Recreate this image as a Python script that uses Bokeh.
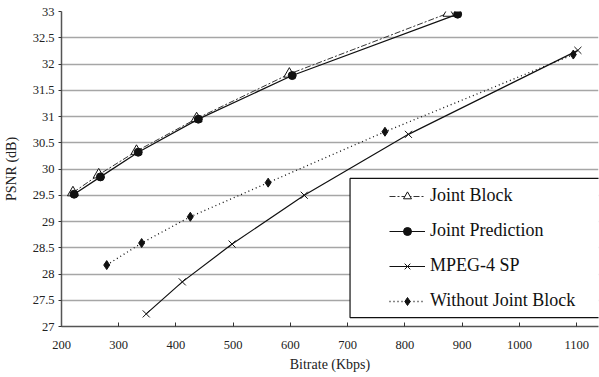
from bokeh.plotting import figure
from bokeh.models import FixedTicker, Legend, BoxAnnotation
from bokeh.embed import file_html
from bokeh.resources import INLINE

# ---- data ----
jb_x = [220, 265, 331, 436, 598, 876]
jb_y = [29.55, 29.89, 30.34, 30.96, 31.81, 32.97]

jp_x = [222, 268, 334, 439, 603, 892]
jp_y = [29.52, 29.85, 30.32, 30.95, 31.78, 32.95]

mp_x = [348, 411, 498, 624, 806, 1102]
mp_y = [27.24, 27.85, 28.57, 29.50, 30.66, 32.26]

wj_x = [279, 340, 425, 561, 765, 1094]
wj_y = [28.17, 28.59, 29.09, 29.74, 30.71, 32.18]

x_ticks = [200, 300, 400, 500, 600, 700, 800, 900, 1000, 1100]
y_ticks = [27, 27.5, 28, 28.5, 29, 29.5, 30, 30.5, 31, 31.5, 32, 32.5, 33]
y_tick_labels = ["27", "27.5", "28", "28.5", "29", "29.5", "30", "30.5",
                 "31", "31.5", "32", "32.5", "33"]

FONT = "'Liberation Serif', 'Times New Roman', serif"

p = figure(width=599, height=377, output_backend="svg", toolbar_location=None,
           x_range=(200, 1138), y_range=(27, 33),
           min_border_left=60, min_border_right=1, min_border_top=11,
           min_border_bottom=51)
p.outline_line_color = None
p.background_fill_color = "white"
p.border_fill_color = "white"

# grid
p.xgrid.grid_line_color = None
p.ygrid.grid_line_color = "#a6a6a6"
p.ygrid.grid_line_width = 1.3
p.ygrid.ticker = FixedTicker(ticks=y_ticks)

# axes
p.xaxis.ticker = FixedTicker(ticks=x_ticks)
p.yaxis.ticker = FixedTicker(ticks=y_ticks)
p.yaxis.major_label_overrides = {t: l for t, l in zip(y_ticks, y_tick_labels)}
for ax in (p.xaxis[0], p.yaxis[0]):
    ax.axis_line_color = "#555555"
    ax.axis_line_width = 1.5
    ax.major_tick_line_color = "#333333"
    ax.minor_tick_line_color = None
    ax.major_label_text_font = FONT
    ax.major_label_text_font_size = "12.5px"
    ax.major_label_text_color = "#222222"
    ax.axis_label_text_font = FONT
    ax.axis_label_text_font_size = "14px"
    ax.axis_label_text_font_style = "normal"
    ax.axis_label_text_color = "#222222"
p.xaxis.major_tick_in = 4
p.xaxis.major_tick_out = 0
p.xaxis.major_label_standoff = 14
p.xaxis.axis_label = "Bitrate (Kbps)"
p.xaxis.axis_label_standoff = 5
p.yaxis.major_tick_in = 0
p.yaxis.major_tick_out = 3
p.yaxis.major_label_standoff = 4
p.yaxis.axis_label = "PSNR (dB)"
p.yaxis.axis_label_standoff = 11

# series
r1 = p.line(jb_x, jb_y, line_color="#333333", line_width=1, line_dash="6 2 2 2")
r1m = p.scatter(jb_x, jb_y, marker="triangle", size=11, fill_color="white",
                line_color="#111111", line_width=1)
r2 = p.line(jp_x, jp_y, line_color="#111111", line_width=1.2)
r2m = p.scatter(jp_x, jp_y, marker="circle", size=8, fill_color="#111111",
                line_color="#111111")
r3 = p.line(mp_x, mp_y, line_color="#111111", line_width=1.2)
r3m = p.scatter(mp_x, mp_y, marker="x", size=10, line_color="#111111",
                line_width=1)
r4 = p.line(wj_x, wj_y, line_color="#111111", line_width=1.3, line_dash="1 3")
r4m = p.scatter(wj_x, wj_y, marker="diamond", size=9, fill_color="#111111",
                line_color="#111111")

# legend box (decoration)
LEG_LEFT, LEG_RIGHT, LEG_BOTTOM, LEG_TOP = 704, 1200, 27.17, 29.82
box = BoxAnnotation(left=LEG_LEFT, right=LEG_RIGHT, bottom=LEG_BOTTOM, top=LEG_TOP,
                    fill_color="white", fill_alpha=1.0,
                    line_color="#111111", line_width=1.2, line_alpha=1.0)
p.add_layout(box)

legend = Legend(items=[("Joint Block", [r1, r1m]),
                       ("Joint Prediction", [r2, r2m]),
                       ("MPEG-4 SP", [r3, r3m]),
                       ("Without Joint Block", [r4, r4m])],
                location=(328, 15), padding=0, margin=0, spacing=14,
                glyph_width=36, glyph_height=20, label_height=20,
                label_standoff=5,
                label_text_font=FONT, label_text_font_size="18px",
                label_text_color="#111111",
                background_fill_alpha=0, border_line_alpha=0)
p.add_layout(legend, "center")

open("out.html", "w").write(file_html(p, INLINE))
